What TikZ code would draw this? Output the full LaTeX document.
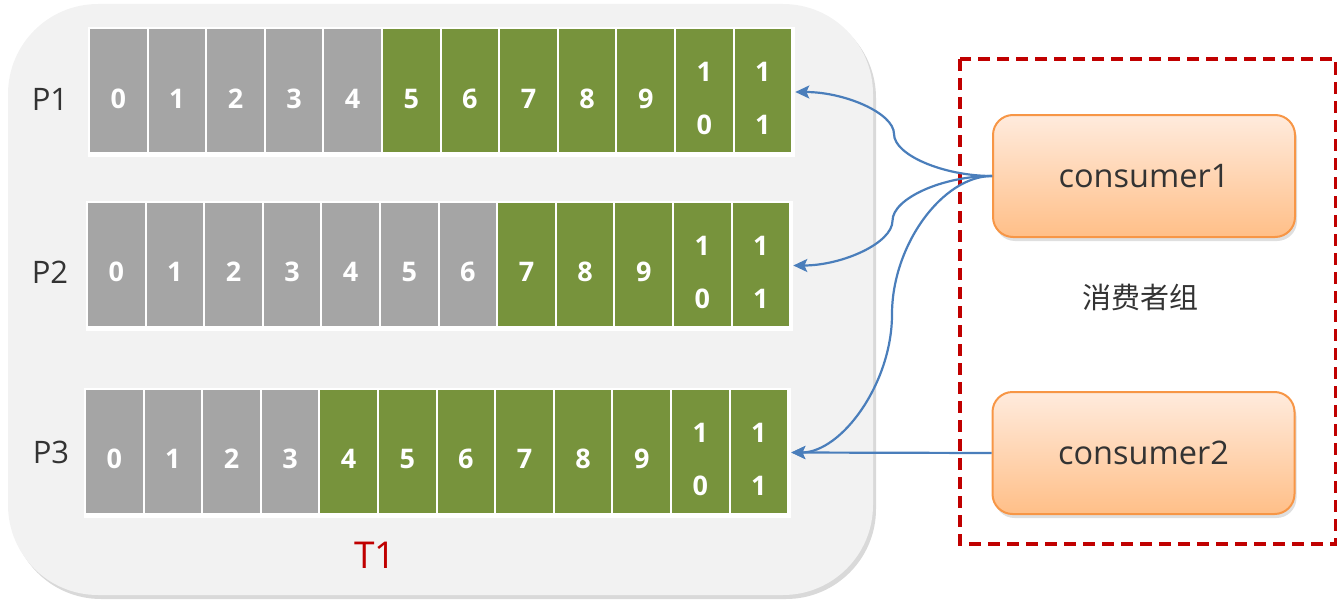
\documentclass[tikz,border=0pt]{standalone}
\usepackage{fontspec}
\setmainfont{Open Sans}
\newfontfamily\cjkfont{Noto Sans CJK SC}
\usetikzlibrary{positioning,shadows,arrows.meta}

\definecolor{panelgray}{HTML}{F2F2F2}
\definecolor{cellgray}{HTML}{A5A5A5}
\definecolor{cellgreen}{HTML}{77933C}
\definecolor{conTop}{HTML}{FFEBDD}
\definecolor{conBot}{HTML}{FFBF88}
\definecolor{conEdge}{HTML}{F79646}
\definecolor{groupred}{HTML}{C00000}
\definecolor{linkblue}{HTML}{4A7EBB}
\definecolor{textgray}{HTML}{333333}

\tikzset{
  panel/.style={rectangle, rounded corners=90pt, fill=panelgray, inner sep=0pt,
    drop shadow={shadow xshift=3pt, shadow yshift=-4pt, opacity=0.3}},
  strip/.style={rectangle, fill=white, inner sep=0pt},
  cell/.style={rectangle, inner sep=0pt, minimum width=56.6pt, minimum height=123pt},
  digit/.style={text=white, font=\fontsize{27}{53}\selectfont\bfseries, align=center, inner sep=0pt},
  part/.style={text=textgray, font=\fontsize{31}{37}\selectfont},
  consumer/.style={rectangle, rounded corners=20pt, draw=conEdge, line width=2pt,
    top color=conTop, bottom color=conBot, minimum width=302pt, minimum height=122pt,
    text=textgray, font=\fontsize{32.5}{38}\selectfont,
    drop shadow={shadow xshift=2pt, shadow yshift=-4pt, opacity=0.25}},
  groupbox/.style={draw=groupred, line width=3.3pt, dash pattern=on 12pt off 7pt},
  link/.style={draw=linkblue, line width=2.2pt, -{Stealth[length=14pt, width=13pt, inset=3pt]}}
}

\begin{document}
\begin{tikzpicture}[x=1pt, y=-1pt]
  \useasboundingbox (0,0) rectangle (1338,610);

  % topic panel
  \node[panel, minimum width=865pt, minimum height=591pt] (topic) at (440.5,299.5) {};

  % partitions: row / left edge / centre y / gray cells
  \foreach \r/\x/\y/\ng in {1/90/90.5/5, 2/88/264/7, 3/86/451/4} {
    \node[strip, minimum width=707pt, minimum height=130pt] (row\r) at (\x+351.6,\y+1.5) {};
    \foreach \lab [count=\k from 0] in {0,1,2,3,4,5,6,7,8,9,{1\\0},{1\\1}} {
      \ifnum\k<\ng \def\cellcol{cellgray}\else\def\cellcol{cellgreen}\fi
      \node[cell, fill=\cellcol] (p\r c\k) at (\x+58.6*\k+28.3,\y) {};
      \node[digit] at ([yshift=-8pt]p\r c\k.center) {\lab};
    }
  }

  \node[part] (lp1) at (50,99) {P1};
  \node[part] (lp2) at (50,272) {P2};
  \node[part] (lp3) at (51,452) {P3};

  \node[text=groupred, font=\fontsize{37}{42}\selectfont] (t1) at (375,555) {T1};

  % consumer group
  \draw[groupbox] (960,59) rectangle (1335.5,544);
  \node[consumer] (con1) at (1144,176) {consumer1};
  \node[consumer] (con2) at (1143.5,453) {consumer2};
  \node[text=textgray, font=\cjkfont\fontsize{29}{34}\selectfont] (grp) at (1140,297) {消费者组};

  % assignments
  \draw[link] (con1.west) .. controls (943.5,176) and (894,155) .. (894,134)
    .. controls (894,113) and (844.5,92) .. (row1.east);
  \draw[link] (con1.west) .. controls (942.75,176) and (892.5,198.4) .. (892.5,220.75)
    .. controls (892.5,243.1) and (842.25,265.5) .. (row2.east);
  \draw[link] (con1.west) .. controls (942.5,176) and (892,245.1) .. (892,314.25)
    .. controls (892,383.4) and (841.5,452.5) .. (row3.east);
  \draw[link] (con2.west) -- (row3.east);
\end{tikzpicture}
\end{document}
